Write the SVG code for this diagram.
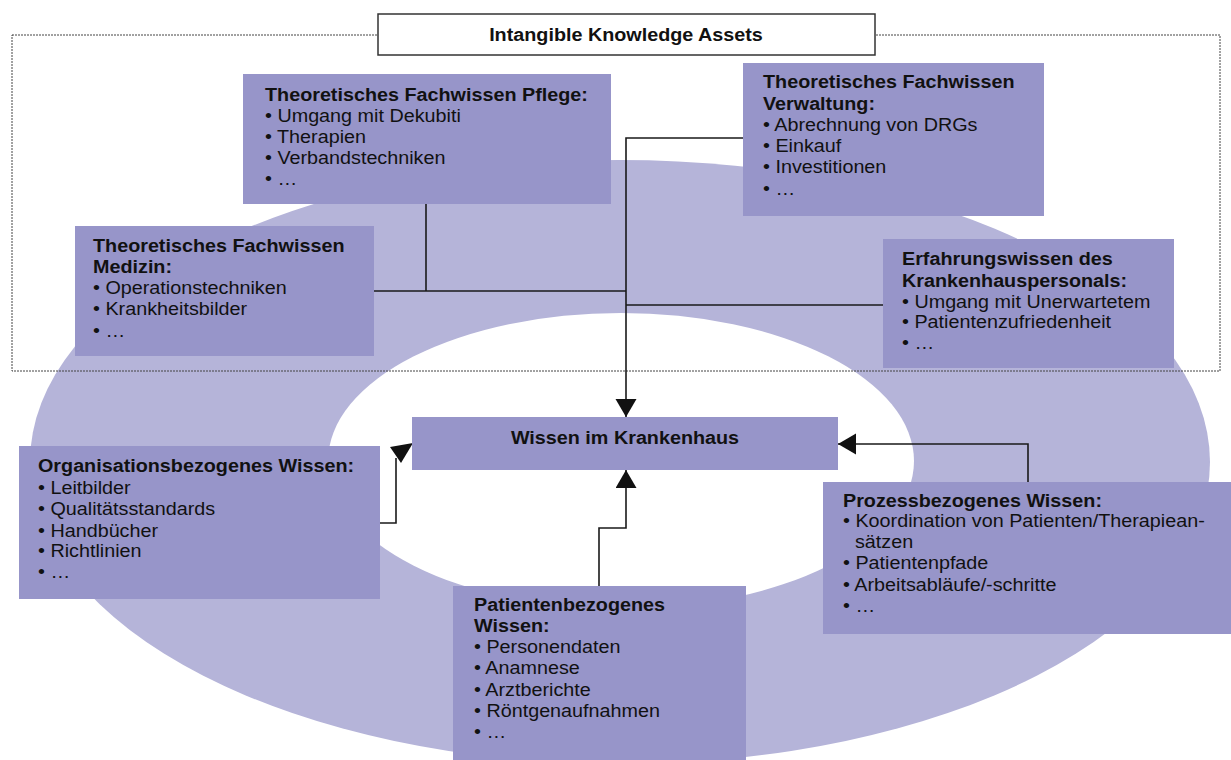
<svg xmlns="http://www.w3.org/2000/svg" width="1231" height="760" viewBox="0 0 1231 760">
<style>
.box{fill:#9795c9}
.t{font-family:"Liberation Sans",Arial,sans-serif;font-size:17.5px;fill:#111}
.b{font-weight:bold}
.con{fill:none;stroke:#1a1a1a;stroke-width:1.6}
</style>
<defs>
<marker id="arr" markerUnits="userSpaceOnUse" markerWidth="20" markerHeight="22" refX="18" refY="10.5" orient="auto">
<path d="M0,0 L18,10.5 L0,21 z" fill="#111"/>
</marker>
</defs>
<rect width="1231" height="760" fill="#fff"/>
<g id="ring">
<ellipse cx="620" cy="462" rx="590" ry="302" fill="#b5b4d9"/>
<ellipse cx="621" cy="461" rx="293" ry="148" fill="#fff"/>
</g>
<rect id="intangible-area" x="12" y="35" width="1208" height="336" fill="none" stroke="#444" stroke-width="1" stroke-dasharray="2 1"/>
<g id="title">
<rect x="378" y="14" width="497" height="41" fill="#fff" stroke="#333" stroke-width="1.5"/>
<text class="t b" transform="translate(626,0) scale(1.13,1)" text-anchor="middle"><tspan x="0" y="41">Intangible Knowledge Assets</tspan></text>
</g>
<g id="connectors">
<path class="con" d="M426,204 V291"/>
<path class="con" d="M374,291 H626"/>
<path class="con" d="M743,138 H626 V417" marker-end="url(#arr)"/>
<path class="con" d="M883,305 H626"/>
<path class="con" d="M380,523 H396 V458"/>
<path d="M390,447 L413,443 L401,463 z" fill="#111"/>
<path class="con" d="M599,586 V528 H626 V470" marker-end="url(#arr)"/>
<path class="con" d="M1028,482 V444 H838" marker-end="url(#arr)"/>
</g>
<g id="pflege">
<rect class="box" x="243" y="74" width="368" height="130"/>
<text class="t" transform="translate(265,0) scale(1.13,1)"><tspan class="b" x="0" y="101">Theoretisches Fachwissen Pflege:</tspan><tspan x="0" y="122">• Umgang mit Dekubiti</tspan><tspan x="0" y="143">• Therapien</tspan><tspan x="0" y="164">• Verbandstechniken</tspan><tspan x="0" y="185">• …</tspan></text>
</g>
<g id="verwaltung">
<rect class="box" x="743" y="63" width="301" height="153"/>
<text class="t" transform="translate(763,0) scale(1.13,1)"><tspan class="b" x="0" y="88">Theoretisches Fachwissen</tspan><tspan class="b" x="0" y="110">Verwaltung:</tspan><tspan x="0" y="131">• Abrechnung von DRGs</tspan><tspan x="0" y="152">• Einkauf</tspan><tspan x="0" y="173">• Investitionen</tspan><tspan x="0" y="195">• …</tspan></text>
</g>
<g id="medizin">
<rect class="box" x="75" y="226" width="299" height="130"/>
<text class="t" transform="translate(93,0) scale(1.13,1)"><tspan class="b" x="0" y="252">Theoretisches Fachwissen</tspan><tspan class="b" x="0" y="273">Medizin:</tspan><tspan x="0" y="294">• Operationstechniken</tspan><tspan x="0" y="315">• Krankheitsbilder</tspan><tspan x="0" y="337">• …</tspan></text>
</g>
<g id="erfahrung">
<rect class="box" x="883" y="239" width="291" height="129"/>
<text class="t" transform="translate(902,0) scale(1.13,1)"><tspan class="b" x="0" y="265">Erfahrungswissen des</tspan><tspan class="b" x="0" y="287">Krankenhauspersonals:</tspan><tspan x="0" y="308">• Umgang mit Unerwartetem</tspan><tspan x="0" y="328">• Patientenzufriedenheit</tspan><tspan x="0" y="349">• …</tspan></text>
</g>
<g id="wissen">
<rect class="box" x="412" y="417" width="426" height="53"/>
<text class="t b" transform="translate(625,0) scale(1.13,1)" text-anchor="middle"><tspan x="0" y="444">Wissen im Krankenhaus</tspan></text>
</g>
<g id="organisation">
<rect class="box" x="19" y="446" width="361" height="153"/>
<text class="t" transform="translate(38,0) scale(1.13,1)"><tspan class="b" x="0" y="472">Organisationsbezogenes Wissen:</tspan><tspan x="0" y="494">• Leitbilder</tspan><tspan x="0" y="515">• Qualitätsstandards</tspan><tspan x="0" y="537">• Handbücher</tspan><tspan x="0" y="557">• Richtlinien</tspan><tspan x="0" y="578">• …</tspan></text>
</g>
<g id="patienten">
<rect class="box" x="453" y="586" width="293" height="174"/>
<text class="t" transform="translate(474,0) scale(1.13,1)"><tspan class="b" x="0" y="611">Patientenbezogenes</tspan><tspan class="b" x="0" y="632">Wissen:</tspan><tspan x="0" y="653">• Personendaten</tspan><tspan x="0" y="674">• Anamnese</tspan><tspan x="0" y="696">• Arztberichte</tspan><tspan x="0" y="717">• Röntgenaufnahmen</tspan><tspan x="0" y="738">• …</tspan></text>
</g>
<g id="prozess">
<rect class="box" x="823" y="482" width="408" height="152"/>
<text class="t" transform="translate(843,0) scale(1.13,1)"><tspan class="b" x="0" y="507">Prozessbezogenes Wissen:</tspan><tspan x="0" y="527">• Koordination von Patienten/Therapiean-</tspan><tspan x="10.6" y="548">sätzen</tspan><tspan x="0" y="569">• Patientenpfade</tspan><tspan x="0" y="591">• Arbeitsabläufe/-schritte</tspan><tspan x="0" y="612">• …</tspan></text>
</g>
</svg>
